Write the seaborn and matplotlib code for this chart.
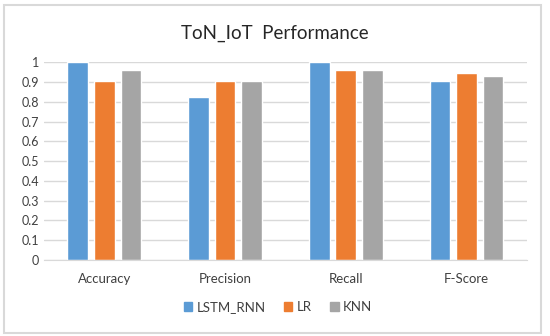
import pandas as pd
import seaborn as sns
import matplotlib.pyplot as plt
import matplotlib.patches as mpatches

metrics = ['Accuracy', 'Precision', 'Recall', 'F-Score']
models = ['LSTM_RNN', 'LR', 'KNN']
lstm_rnn = [0.999, 0.825, 0.999, 0.903]
lr = [0.905, 0.905, 0.960, 0.945]
knn = [0.960, 0.903, 0.958, 0.930]
colors = ['#5B9BD5', '#ED7D31', '#A5A5A5']

sns.set_style('white')
plt.rcParams['font.family'] = ['Lato', 'DejaVu Sans']

rows = []
for name, vals in zip(models, [lstm_rnn, lr, knn]):
    for m, v in zip(metrics, vals):
        rows.append({'metric': m, 'model': name, 'score': v})
df = pd.DataFrame(rows)

fig = plt.figure(figsize=(5.5, 3.36), dpi=100)
ax = fig.add_axes([0.08, 0.226, 0.878, 0.589])

sns.barplot(ax=ax, data=df, x='metric', y='score', hue='model', order=metrics,
            hue_order=models, palette=colors, width=0.66, gap=0.22,
            saturation=1, legend=False)

ax.set_ylim(0, 1)
ax.set_yticks([i / 10 for i in range(11)])
ax.set_yticklabels(['0'] + [f'{i / 10:.1f}' for i in range(1, 10)] + ['1'])
ax.set_xlabel('')
ax.set_ylabel('')
ax.grid(axis='y', color='#D9D9D9', linewidth=1)
ax.set_axisbelow(True)
for s in ['left', 'right', 'top']:
    ax.spines[s].set_visible(False)
ax.spines['bottom'].set_color('#D9D9D9')
ax.tick_params(axis='both', length=0, colors='#404040', labelsize=9)
ax.tick_params(axis='x', pad=9, labelsize=9.5)
for p in ax.patches:
    p.set_clip_on(False)

fig.text(0.5, 0.9, 'ToN_IoT  Performance', fontsize=13.5, color='#262626',
         ha='center', va='center')

handles = [mpatches.Patch(color=c, label=m) for c, m in zip(colors, models)]
fig.legend(handles=handles, loc='center', bbox_to_anchor=(0.505, 0.086), ncol=3,
           frameon=False, handlelength=0.65, handleheight=0.65, handletextpad=0.3,
           columnspacing=1.4, fontsize=9.5, labelcolor='#404040')

fig.patches.append(mpatches.Rectangle((0.008, 0.01), 0.975, 0.975, transform=fig.transFigure,
                                      fill=False, edgecolor='#D9D9D9', linewidth=1.5))

plt.savefig('out.png')
